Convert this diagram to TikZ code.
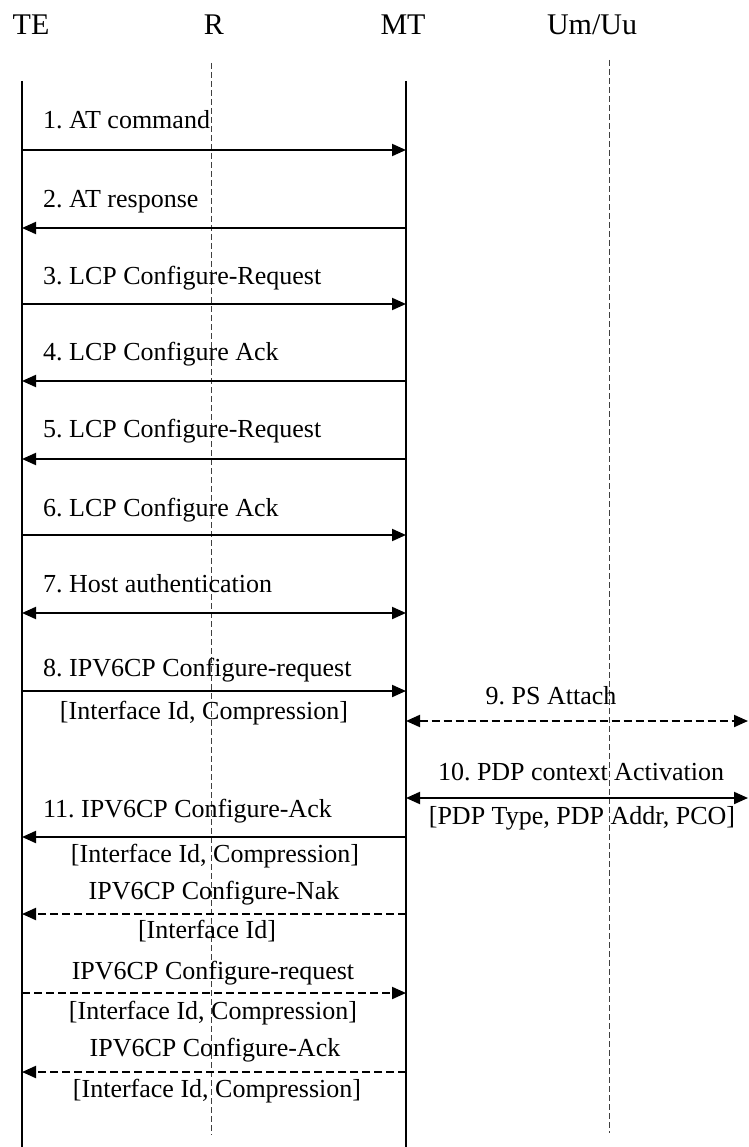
\documentclass[tikz,border=0pt]{standalone}
\usepackage{fontspec}
\setmainfont{Liberation Serif}
\usetikzlibrary{arrows.meta}
\frenchspacing

\tikzset{
  entity/.style={anchor=base, inner sep=0pt, font=\fontsize{30}{34}\selectfont},
  msglabel/.style={anchor=base west, inner sep=0pt, font=\fontsize{26}{30}\selectfont},
  msgtext/.style={anchor=base, inner sep=0pt, font=\fontsize{26}{30}\selectfont},
  lifeline/.style={line width=2.4pt},
  refline/.style={line width=0.9pt, black!75, dash pattern=on 6pt off 3pt},
  msgline/.style={line width=2pt, -{Triangle[length=14pt,width=12pt]}},
  bothline/.style={line width=2pt, {Triangle[length=14pt,width=12pt]}-{Triangle[length=14pt,width=12pt]}},
  optline/.style={dash pattern=on 8pt off 4pt}
}

\begin{document}
\begin{tikzpicture}[x=1pt,y=1pt,yscale=-1]
    \useasboundingbox (0,0) rectangle (748,1147);

    % Entity names
    \node[entity] (te) at (31,35) {TE};
    \node[entity] (r) at (214,35) {R};
    \node[entity] (mt) at (403,35) {MT};
    \node[entity] (uu) at (592,35) {Um/Uu};

    % Lifelines
    \coordinate (TEtop) at (22,81);
    \coordinate (TEbot) at (22,1147);
    \coordinate (MTtop) at (406,81);
    \coordinate (MTbot) at (406,1147);
    \coordinate (Rtop) at (211,63);
    \coordinate (Rbot) at (211,1135);
    \coordinate (Utop) at (609,60);
    \coordinate (Ubot) at (609,1133);
    \draw[lifeline] (TEtop) -- (TEbot);
    \draw[lifeline] (MTtop) -- (MTbot);
    \draw[refline] (Rtop) -- (Rbot);
    \draw[refline] (Utop) -- (Ubot);

    % Message end points
    \foreach \y/\n in {150/a,228/b,304/c,381/d,459/e,535/f,613/g,691/h,721/i,798/j,837/k,914/n,993/q,1072/s}{
        \coordinate (te\n) at (22,\y);
        \coordinate (mt\n) at (406,\y);
    }
    \coordinate (nwi) at (748,721);
    \coordinate (nwj) at (748,798);

    % Messages
    \draw[msgline] (tea) -- (mta);
    \draw[msgline] (mtb) -- (teb);
    \draw[msgline] (tec) -- (mtc);
    \draw[msgline] (mtd) -- (ted);
    \draw[msgline] (mte) -- (tee);
    \draw[msgline] (tef) -- (mtf);
    \draw[bothline] (teg) -- (mtg);
    \draw[msgline] (teh) -- (mth);
    \draw[bothline, optline] (mti) -- (nwi);
    \draw[bothline] (mtj) -- (nwj);
    \draw[msgline] (mtk) -- (tek);
    \draw[msgline, optline] (mtn) -- (ten);
    \draw[msgline, optline] (teq) -- (mtq);
    \draw[msgline, optline] (mts) -- (tes);

    % Text Nodes
    \node[msglabel] (l1) at (43,129) {1. AT command};
    \node[msglabel] (l2) at (43,208) {2. AT response};
    \node[msglabel] (l3) at (43,284) {3. LCP Configure-Request};
    \node[msglabel] (l4) at (43,360) {4. LCP Configure Ack};
    \node[msglabel] (l5) at (43,437) {5. LCP Configure-Request};
    \node[msglabel] (l6) at (43,516) {6. LCP Configure Ack};
    \node[msglabel] (l7) at (43,592) {7. Host authentication};
    \node[msglabel] (l8) at (43,676) {8. IPV6CP Configure-request};
    \node[msgtext] (p8) at (204,719) {[Interface Id, Compression]};
    \node[msgtext] (l9) at (551,704) {9. PS Attach};
    \node[msgtext] (l10) at (581,780) {10. PDP context Activation};
    \node[msgtext] (p10) at (582,824) {[PDP Type, PDP Addr, PCO]};
    \node[msglabel] (l11) at (43,817) {11. IPV6CP Configure-Ack};
    \node[msgtext] (p11) at (215,862) {[Interface Id, Compression]};
    \node[msgtext] (lnak) at (214,899) {IPV6CP Configure-Nak};
    \node[msgtext] (pnak) at (207,938) {[Interface Id]};
    \node[msgtext] (lreq) at (213,979) {IPV6CP Configure-request};
    \node[msgtext] (preq) at (213,1019) {[Interface Id, Compression]};
    \node[msgtext] (lack) at (215,1056) {IPV6CP Configure-Ack};
    \node[msgtext] (pack) at (217,1097) {[Interface Id, Compression]};

\end{tikzpicture}
\end{document}
